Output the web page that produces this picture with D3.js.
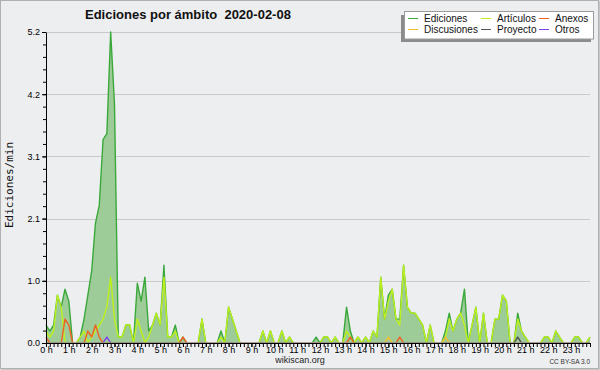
<!DOCTYPE html>
<html>
<head>
<meta charset="utf-8">
<script src="https://cdnjs.cloudflare.com/ajax/libs/d3/7.8.5/d3.min.js"></script>
<style>
body { margin: 0; background: #fff; }
svg { display: block; }
</style>
</head>
<body>
<div id="chart"></div>
<script>
// Edits per minute, one value per 10-minute slot (6 per row = 1 hour)
var ediciones = [
  0.3, 0.2, 0.3, 0.8, 0.6, 0.9,
  0.7, 0, 0, 0.1, 0.4, 0.8,
  1.2, 2.0, 2.3, 3.4, 3.5, 5.2,
  4.0, 0.1, 0.1, 0.3, 0.3, 0,
  1.0, 0.7, 1.1, 0.2, 0.3, 0.5,
  0.3, 1.3, 0.1, 0.1, 0.3, 0,
  0.1, 0, 0, 0, 0, 0.4,
  0, 0, 0, 0, 0.2, 0,
  0.6, 0.4, 0.2, 0, 0, 0,
  0, 0, 0, 0.2, 0, 0.2,
  0, 0, 0.2, 0, 0.1, 0,
  0, 0, 0, 0, 0, 0.1,
  0, 0.1, 0.1, 0, 0.1, 0,
  0, 0.6, 0.2, 0, 0.1, 0,
  0.1, 0, 0.2, 0.1, 1.1, 0.4,
  0.8, 0.9, 0.4, 0.4, 1.3, 0.6,
  0.5, 0.5, 0.4, 0.3, 0, 0.3,
  0, 0, 0, 0.2, 0.5, 0.2,
  0.4, 0.5, 0.9, 0, 0.3, 0.6,
  0, 0.5, 0, 0, 0.4, 0.4,
  0.8, 0.7, 0, 0, 0.5, 0.2,
  0.1, 0, 0, 0, 0, 0.1,
  0.1, 0, 0.2, 0.1, 0, 0,
  0, 0.1, 0.1, 0, 0, 0.1
];

var articulos = [
  0.2, 0.1, 0.2, 0.8, 0.6, 0,
  0, 0, 0, 0.1, 0.2, 0,
  0.1, 0.2, 0.3, 0.4, 0.6, 1.1,
  0.4, 0.1, 0.1, 0.3, 0.3, 0,
  0.4, 0.2, 0, 0.1, 0.3, 0.5,
  0.3, 1.1, 0.1, 0.1, 0.2, 0,
  0, 0, 0, 0, 0, 0.4,
  0, 0, 0, 0, 0.1, 0,
  0.6, 0.4, 0.2, 0, 0, 0,
  0, 0, 0, 0.2, 0, 0.2,
  0, 0, 0.2, 0, 0.1, 0,
  0, 0, 0, 0, 0, 0,
  0, 0.1, 0.1, 0, 0.1, 0,
  0, 0.2, 0.1, 0, 0.1, 0,
  0.1, 0, 0.2, 0.1, 1.1, 0.4,
  0.7, 0.9, 0.4, 0.3, 1.3, 0.6,
  0.5, 0.5, 0.4, 0.3, 0, 0.3,
  0, 0, 0, 0.1, 0.4, 0.2,
  0.4, 0.5, 0.3, 0, 0.3, 0.6,
  0, 0.5, 0, 0, 0.4, 0.4,
  0.8, 0.7, 0, 0, 0.4, 0.2,
  0.1, 0, 0, 0, 0, 0.1,
  0.1, 0, 0.2, 0.1, 0, 0,
  0, 0.1, 0.1, 0, 0, 0.1
];

var anexos = [
  0.1, 0, 0, 0, 0, 0.4,
  0.3, 0, 0, 0, 0, 0.2,
  0.1, 0.3, 0.1, 0, 0, 0,
  0, 0, 0, 0, 0, 0,
  0, 0, 0, 0, 0, 0,
  0, 0, 0, 0, 0, 0,
  0.1, 0, 0, 0, 0, 0,
  0, 0, 0, 0, 0, 0,
  0, 0, 0, 0, 0, 0,
  0, 0, 0, 0, 0, 0,
  0, 0, 0, 0, 0, 0,
  0, 0, 0, 0, 0, 0,
  0, 0, 0, 0, 0, 0,
  0, 0, 0.1, 0, 0, 0,
  0, 0, 0, 0, 0, 0,
  0, 0, 0, 0.1, 0, 0,
  0, 0, 0, 0, 0, 0,
  0, 0, 0, 0, 0, 0,
  0, 0, 0, 0, 0, 0,
  0, 0, 0, 0, 0, 0,
  0, 0, 0, 0, 0, 0,
  0, 0, 0, 0, 0, 0,
  0, 0, 0, 0, 0, 0,
  0, 0, 0, 0, 0, 0
];

var discusiones = [
  0, 0, 0, 0, 0, 0,  0, 0, 0, 0, 0, 0,  0, 0, 0, 0, 0, 0,  0, 0, 0, 0, 0, 0,
  0, 0, 0, 0, 0, 0,  0, 0, 0, 0, 0, 0,  0, 0, 0, 0, 0, 0,  0, 0, 0, 0, 0, 0,
  0, 0, 0, 0, 0, 0,  0, 0, 0, 0, 0, 0,  0, 0, 0, 0, 0, 0,  0, 0, 0, 0, 0, 0,
  0, 0, 0, 0, 0, 0,  0, 0, 0, 0, 0, 0,  0, 0, 0, 0, 0, 0,
  0.1, 0, 0, 0, 0, 0,  0, 0, 0, 0, 0, 0,  0, 0, 0, 0.1, 0, 0,
  0, 0, 0, 0, 0, 0,  0, 0, 0, 0, 0, 0,  0, 0, 0, 0, 0, 0,
  0, 0, 0, 0, 0, 0,  0, 0, 0, 0, 0, 0,  0, 0, 0, 0, 0, 0
];

var proyecto = [
  0, 0, 0, 0, 0, 0,  0, 0, 0, 0, 0, 0,  0, 0, 0, 0, 0, 0,  0, 0, 0, 0, 0, 0,
  0, 0, 0, 0, 0, 0,  0, 0, 0, 0, 0, 0,  0, 0, 0, 0, 0, 0,  0, 0, 0, 0, 0, 0,
  0, 0, 0, 0, 0, 0,  0, 0, 0, 0, 0, 0,  0, 0, 0, 0, 0, 0,  0, 0, 0, 0, 0, 0,
  0, 0, 0, 0, 0, 0,  0, 0, 0, 0, 0, 0,  0, 0, 0, 0, 0, 0,  0, 0, 0, 0, 0, 0,
  0, 0, 0, 0, 0, 0,  0, 0, 0, 0, 0, 0,  0, 0, 0, 0, 0, 0,  0, 0, 0, 0, 0, 0,
  0, 0, 0, 0, 0.1, 0,  0, 0, 0, 0, 0, 0,  0, 0, 0, 0, 0, 0,  0, 0, 0, 0, 0, 0
];

var otros = [
  0, 0, 0, 0, 0, 0,  0, 0, 0, 0, 0, 0,  0, 0, 0, 0, 0.1, 0,  0, 0, 0, 0, 0, 0,
  0, 0, 0, 0, 0, 0,  0, 0, 0, 0, 0, 0,  0, 0, 0, 0, 0, 0,  0, 0, 0, 0, 0, 0,
  0, 0, 0, 0, 0, 0,  0, 0, 0, 0, 0, 0,  0, 0, 0, 0, 0, 0,  0, 0, 0, 0, 0, 0,
  0, 0, 0, 0, 0, 0,  0, 0, 0, 0, 0, 0,  0, 0, 0, 0, 0, 0,  0, 0, 0, 0, 0, 0,
  0, 0, 0, 0, 0, 0,  0, 0, 0, 0, 0, 0,  0, 0, 0, 0, 0, 0,  0, 0, 0, 0, 0, 0,
  0, 0, 0, 0, 0, 0,  0, 0, 0, 0, 0, 0,  0, 0, 0, 0, 0, 0,  0, 0, 0, 0, 0, 0
];

var hourLabels = ["0 h", "1 h", "2 h", "3 h", "4 h", "5 h", "6 h", "7 h", "8 h", "9 h", "10 h", "11 h",
  "12 h", "13 h", "14 h", "15 h", "16 h", "17 h", "18 h", "19 h", "20 h", "21 h", "22 h", "23 h"];
var yTicks = [0, 1.04, 2.08, 3.12, 4.16, 5.2];
var yTickLabels = ["0.0", "1.0", "2.1", "3.1", "4.2", "5.2"];
var legendNames = ["Ediciones", "Artículos", "Anexos", "Discusiones", "Proyecto", "Otros"];

// Colours
var colors = {
  "Ediciones": "#3aa83a",
  "Artículos": "#bdf01c",
  "Anexos": "#f06020",
  "Discusiones": "#f0c030",
  "Proyecto": "#555555",
  "Otros": "#8040f0"
};
var fillColor = "#9ecc98";

// Section 1: canvas
// =================
var width = 600;
var height = 370;
var slots = ediciones.length;

var svg = d3
.select("#chart")
.append("svg")
.attr("width", width)
.attr("height", height);

svg.append("rect")
.attr("width", width)
.attr("height", height)
.attr("fill", "#edeef0");

// outer frame
svg.append("rect")
.attr("x", 0.5)
.attr("y", 0.5)
.attr("width", width - 2)
.attr("height", height - 2)
.attr("fill", "none")
.attr("stroke", "#b0b0b0");
svg.append("path")
.attr("d", "M599.5,1V369.5H1")
.attr("fill", "none")
.attr("stroke", "#c8c8c8");

// lines stay above the baseline, like the original (zero runs hide under the axis)
svg.append("clipPath")
.attr("id", "plotClip")
.append("rect")
.attr("x", 40)
.attr("y", 20)
.attr("width", 556)
.attr("height", 322.2);

// Scales
var xScale = d3.scaleLinear().domain([0, slots - 1]).range([46, 590]);
var yScale = d3.scaleLinear().domain([0, 5.2]).range([343, 32]);

// Section 2: grid
// ===============
svg.append("g")
.selectAll("line")
.data(yTicks)
.enter()
.append("line")
.attr("x1", 46)
.attr("x2", 590)
.attr("y1", function(d) { return Math.round(yScale(d)) + 0.5; })
.attr("y2", function(d) { return Math.round(yScale(d)) + 0.5; })
.attr("stroke", "#c9c9c9")
.attr("stroke-width", 1);

// Section 3: series
// =================
var area = d3.area()
.x(function(d, i) { return xScale(i); })
.y0(yScale(0))
.y1(function(d) { return yScale(d); });

var line = d3.line()
.x(function(d, i) { return xScale(i); })
.y(function(d) { return yScale(d); });

svg.append("path")
.datum(ediciones)
.attr("d", area)
.attr("fill", fillColor);

var series = [
  ["Ediciones", ediciones],
  ["Artículos", articulos],
  ["Anexos", anexos],
  ["Discusiones", discusiones],
  ["Proyecto", proyecto],
  ["Otros", otros]
];

var lines = svg.append("g").attr("clip-path", "url(#plotClip)");

series.forEach(function(s) {
  lines.append("path")
  .datum(s[1])
  .attr("d", line)
  .attr("fill", "none")
  .attr("stroke", colors[s[0]])
  .attr("stroke-width", 1.4)
  .attr("stroke-linejoin", "round");
});

// Section 4: axes
// ===============
var axisFont = "'Liberation Sans', Arial, sans-serif";

// y minor ticks
var yMinor = d3.range(0, 26).map(function(k) { return k * 0.208; });
svg.append("g")
.attr("transform", "translate(46,0)")
.call(d3.axisLeft(yScale).tickValues(yMinor).tickSize(3).tickFormat(""))
.call(function(g) { g.select(".domain").remove(); });

var yAxis = d3.axisLeft(yScale)
.tickValues(yTicks)
.tickSize(4)
.tickSizeOuter(0)
.tickPadding(2)
.tickFormat(function(d, i) { return yTickLabels[i]; });

svg.append("g")
.attr("transform", "translate(46,0)")
.call(yAxis)
.attr("font-family", axisFont)
.attr("font-size", 9);

// x minor ticks (every 10 minutes)
svg.append("g")
.attr("transform", "translate(0,343)")
.call(d3.axisBottom(xScale).tickValues(d3.range(0, slots)).tickSize(4).tickFormat(""))
.call(function(g) { g.select(".domain").remove(); });

var xAxis = d3.axisBottom(xScale)
.tickValues(d3.range(0, 24).map(function(h) { return h * 6; }))
.tickSize(4)
.tickSizeOuter(0)
.tickPadding(0)
.tickFormat(function(d, i) { return hourLabels[i]; });

svg.append("g")
.attr("transform", "translate(0,343)")
.call(xAxis)
.attr("font-family", axisFont)
.attr("font-size", 9);

// y label
svg.append("text")
.attr("transform", "translate(13,185)rotate(-90)")
.attr("text-anchor", "middle")
.attr("font-family", "'DejaVu Sans Mono', monospace")
.attr("font-size", 11)
.attr("fill", "#111")
.text("Ediciones/min");

// Section 5: title and footer
// ===========================
svg.append("text")
.attr("x", 85)
.attr("y", 18.5)
.attr("font-family", axisFont)
.attr("font-weight", "bold")
.attr("font-size", 13)
.attr("fill", "#111")
.style("white-space", "pre")
.text("Ediciones por ámbito  2020-02-08");

svg.append("text")
.attr("x", 300)
.attr("y", 363)
.attr("text-anchor", "middle")
.attr("font-family", axisFont)
.attr("font-size", 9)
.attr("fill", "#222")
.text("wikiscan.org");

svg.append("text")
.attr("x", 590)
.attr("y", 364)
.attr("text-anchor", "end")
.attr("font-family", axisFont)
.attr("font-size", 6.5)
.attr("fill", "#333")
.text("CC BY-SA 3.0");

// Section 6: legend
// =================
svg.append("rect")
.attr("x", 401)
.attr("y", 15)
.attr("width", 190)
.attr("height", 27)
.attr("fill", "#8c8c8c");

svg.append("rect")
.attr("x", 404.5)
.attr("y", 11.5)
.attr("width", 189)
.attr("height", 27.5)
.attr("fill", "#ffffff")
.attr("stroke", "#9a9a9a");

var colX = [408, 481, 539];
var rowY = [18.5, 29.5];

legendNames.forEach(function(name, i) {
  var cx = colX[i % 3];
  var cy = rowY[Math.floor(i / 3)];
  svg.append("line")
  .attr("x1", cx)
  .attr("x2", cx + 10)
  .attr("y1", cy)
  .attr("y2", cy)
  .attr("stroke", colors[name])
  .attr("stroke-width", 1);
  svg.append("text")
  .attr("x", cx + 16)
  .attr("y", cy + 3.5)
  .attr("font-family", axisFont)
  .attr("font-size", 10)
  .attr("fill", "#111")
  .text(name);
});
</script>
</body>
</html>
